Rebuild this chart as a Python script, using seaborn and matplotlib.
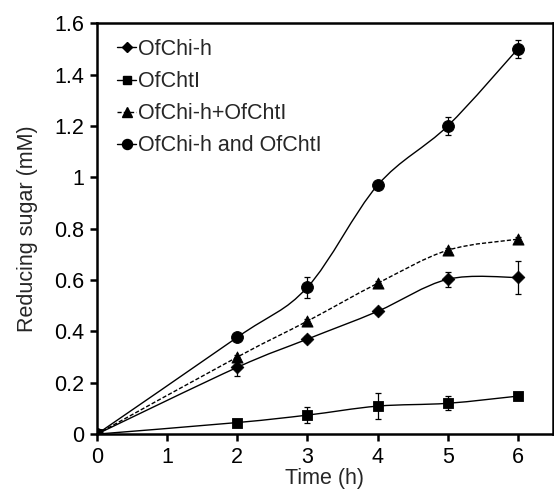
import numpy as np
import pandas as pd
import matplotlib
matplotlib.use("Agg")
import matplotlib.pyplot as plt
from matplotlib.path import Path
from matplotlib.patches import PathPatch
from matplotlib.lines import Line2D
import seaborn as sns

# data
time_h = [0, 2, 3, 4, 5, 6]
series_names = ["OfChi-h", "OfChtI", "OfChi-h+OfChtI", "OfChi-h and OfChtI"]
chi_h = [0, 0.26, 0.37, 0.478, 0.603, 0.61]
chi_h_err = [0, 0.035, 0.012, 0.01, 0.03, 0.065]
chtl = [0, 0.045, 0.074, 0.109, 0.12, 0.148]
chtl_err = [0, 0.008, 0.03, 0.05, 0.028, 0.006]
mix = [0, 0.30, 0.44, 0.587, 0.716, 0.759]
mix_err = [0, 0.01, 0.01, 0.01, 0.01, 0.01]
both = [0, 0.377, 0.572, 0.969, 1.20, 1.50]
both_err = [0, 0.01, 0.04, 0.01, 0.035, 0.035]
ytick_vals = [0, 0.2, 0.4, 0.6, 0.8, 1, 1.2, 1.4, 1.6]
ytick_labels = ["0", "0.2", "0.4", "0.6", "0.8", "1", "1.2", "1.4", "1.6"]

sns.set_style("ticks")
plt.rcParams["font.family"] = ["Liberation Sans", "DejaVu Sans"]

fig = plt.figure(figsize=(5.54, 4.95), dpi=100)
ax = fig.add_axes([0.175, 0.123, 0.823, 0.830])


def smooth_path(x, y):
    # Catmull-Rom style bezier path through the points (Excel "smoothed line")
    x = np.asarray(x, float)
    y = np.asarray(y, float)
    verts = [(x[0], y[0])]
    codes = [Path.MOVETO]
    n = len(x)
    for i in range(n - 1):
        p0 = (x[max(i - 1, 0)], y[max(i - 1, 0)])
        p1 = (x[i], y[i])
        p2 = (x[i + 1], y[i + 1])
        p3 = (x[min(i + 2, n - 1)], y[min(i + 2, n - 1)])
        t = 1 / 6
        c1 = (p1[0] + (p2[0] - p0[0]) * t, p1[1] + (p2[1] - p0[1]) * t)
        c2 = (p2[0] - (p3[0] - p1[0]) * t, p2[1] - (p3[1] - p1[1]) * t)
        verts += [c1, c2, p2]
        codes += [Path.CURVE4] * 3
    return Path(verts, codes)


styles = [
    (chi_h, chi_h_err, "D", 6.5, "-"),
    (chtl, chtl_err, "s", 7.5, "-"),
    (mix, mix_err, "^", 8, (0, (3, 1.5))),
    (both, both_err, "o", 8.5, "-"),
]

rows = []
for name, (vals, errs, m, ms, ls) in zip(series_names, styles):
    for t, v in zip(time_h, vals):
        rows.append({"Time": t, "Value": v, "Series": name})
df = pd.DataFrame(rows)

handles = []
for name, (vals, errs, m, ms, ls) in zip(series_names, styles):
    patch = PathPatch(smooth_path(time_h, vals), facecolor="none",
                      edgecolor="black", lw=1.0, linestyle=ls, zorder=2)
    ax.add_patch(patch)
    ax.errorbar(time_h, vals, yerr=errs, fmt="none", ecolor="black",
                elinewidth=0.9, capsize=2, capthick=0.9, zorder=3)
    sub = df[df["Series"] == name]
    sns.scatterplot(data=sub, x="Time", y="Value", ax=ax, marker=m,
                    s=ms ** 2, color="black", edgecolor="black", zorder=4,
                    legend=False)
    handles.append(Line2D([], [], color="black", lw=1.0, linestyle=ls,
                          marker=m, markersize=ms * 0.85, label=name))

ax.set_xlim(0, 6.5)
ax.set_ylim(0, 1.6)
ax.set_xticks(range(0, 7))
ax.set_yticks(ytick_vals)
ax.set_yticklabels(ytick_labels)
ax.tick_params(axis="both", labelsize=15.5, length=5, width=1.8, direction="out",
               colors="black", pad=4)
for sp in ax.spines.values():
    sp.set_visible(True)
    sp.set_linewidth(1.8)
    sp.set_color("black")
ax.set_xlabel("Time (h)", fontsize=15.5, labelpad=0)
ax.set_ylabel("Reducing sugar (mM)", fontsize=15.5, labelpad=12)

leg = ax.legend(handles=handles, loc="upper left", frameon=False,
                fontsize=15.5, handlelength=0.85, handletextpad=0.1,
                labelspacing=0.52, borderaxespad=0, borderpad=0,
                bbox_to_anchor=(0.045, 0.962))

fig.savefig("out.png", dpi=100)
